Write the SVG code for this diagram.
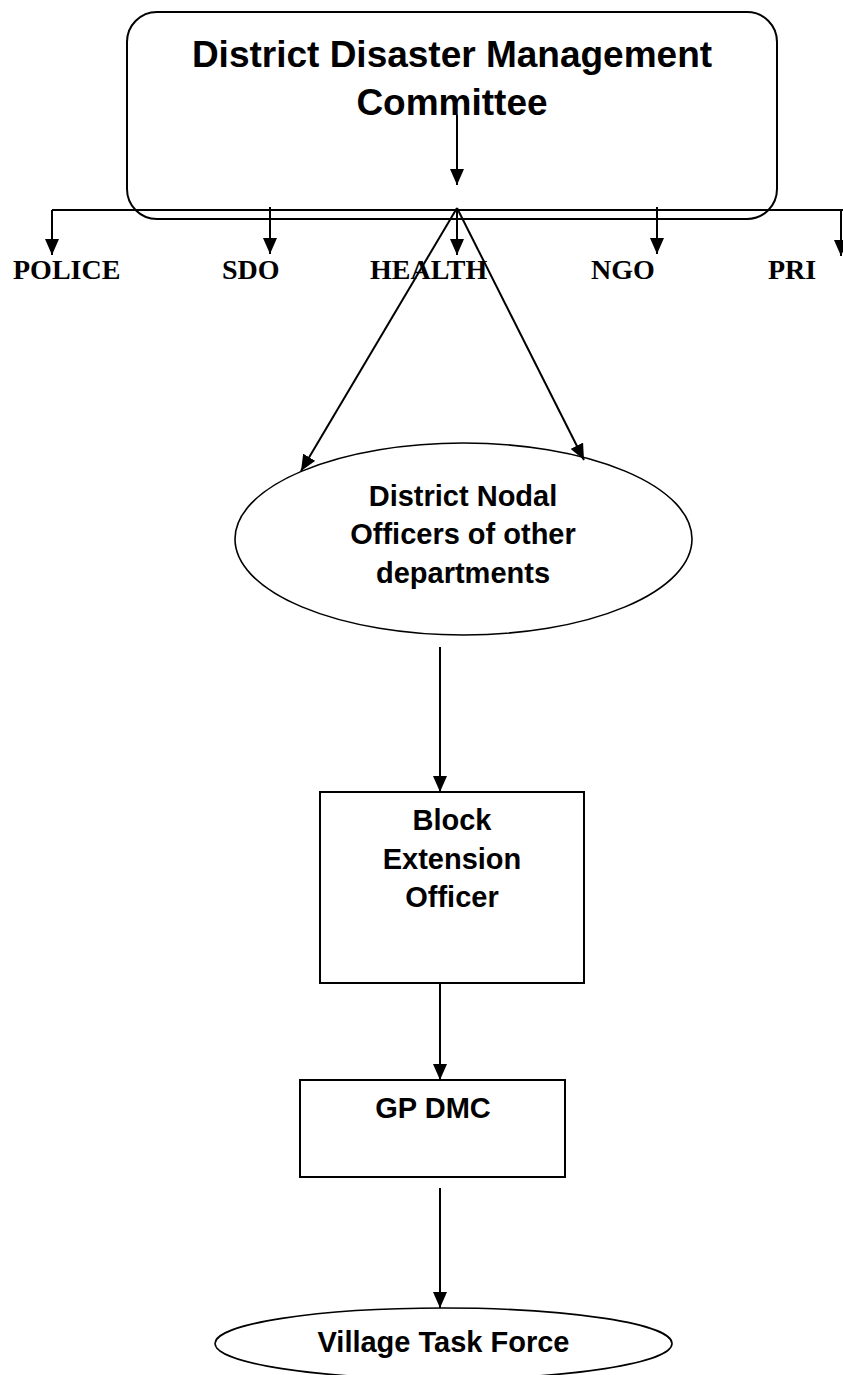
<svg xmlns="http://www.w3.org/2000/svg" width="843" height="1375" viewBox="0 0 843 1375">
<style>
.shape{fill:#fff;stroke:#000;stroke-width:2}
.ell{fill:#fff;stroke:#000;stroke-width:1.6}
.t{font-family:"Liberation Sans",Arial,sans-serif;font-weight:bold;font-size:29px;fill:#000;text-anchor:middle}
.tt{font-family:"Liberation Sans",Arial,sans-serif;font-weight:bold;font-size:37px;fill:#000;text-anchor:middle}
.lbl{font-family:"Liberation Serif","Times New Roman",serif;font-weight:bold;font-size:28px;fill:#000}
.c{stroke:#000;stroke-width:2;fill:none}
</style>
<defs>
<marker id="ah" markerUnits="userSpaceOnUse" markerWidth="16" markerHeight="14" refX="16" refY="7" orient="auto">
<path d="M0,0 L16,7 L0,14 z" fill="#000"/>
</marker>
</defs>
<g id="ddmc">
<rect class="shape" x="127" y="12" width="650" height="207" rx="30" ry="30"/>
<text class="tt" x="452" y="67">District Disaster Management</text>
<text class="tt" x="452" y="115">Committee</text>
</g>
<g id="police"><text class="lbl" x="13" y="279">POLICE</text></g>
<g id="sdo"><text class="lbl" x="222" y="279">SDO</text></g>
<g id="health"><text class="lbl" x="370" y="279">HEALTH</text></g>
<g id="ngo"><text class="lbl" x="591" y="279">NGO</text></g>
<g id="pri"><text class="lbl" x="768" y="279">PRI</text></g>
<g id="nodal">
<ellipse class="ell" cx="463.5" cy="539" rx="228.5" ry="96"/>
<text class="t" x="463" y="506">District Nodal</text>
<text class="t" x="463" y="544">Officers of other</text>
<text class="t" x="463" y="583">departments</text>
</g>
<g id="beo">
<rect class="shape" x="320" y="792" width="264" height="191"/>
<text class="t" x="452" y="830">Block</text>
<text class="t" x="452" y="869">Extension</text>
<text class="t" x="452" y="907">Officer</text>
</g>
<g id="gpdmc">
<rect class="shape" x="300" y="1080" width="265" height="97"/>
<text class="t" x="433" y="1118">GP DMC</text>
</g>
<g id="vtf">
<ellipse class="ell" cx="443.5" cy="1343.5" rx="228.5" ry="35.5"/>
<text class="t" x="443.5" y="1352">Village Task Force</text>
</g>
<g id="connectors">
<line class="c" x1="457" y1="115" x2="457" y2="185" marker-end="url(#ah)"/>
<line class="c" x1="52" y1="210" x2="845" y2="210"/>
<line class="c" x1="52" y1="210" x2="52" y2="255" marker-end="url(#ah)"/>
<line class="c" x1="270" y1="207" x2="270" y2="254" marker-end="url(#ah)"/>
<line class="c" x1="457" y1="208" x2="457" y2="255" marker-end="url(#ah)"/>
<line class="c" x1="657" y1="207" x2="657" y2="254" marker-end="url(#ah)"/>
<line class="c" x1="841" y1="210" x2="841" y2="256" marker-end="url(#ah)"/>
<line class="c" x1="457" y1="208" x2="301" y2="471" marker-end="url(#ah)"/>
<line class="c" x1="457" y1="208" x2="584" y2="460" marker-end="url(#ah)"/>
<line class="c" x1="440" y1="647" x2="440" y2="792" marker-end="url(#ah)"/>
<line class="c" x1="440" y1="983" x2="440" y2="1080" marker-end="url(#ah)"/>
<line class="c" x1="440" y1="1188" x2="440" y2="1308" marker-end="url(#ah)"/>
</g>
</svg>
